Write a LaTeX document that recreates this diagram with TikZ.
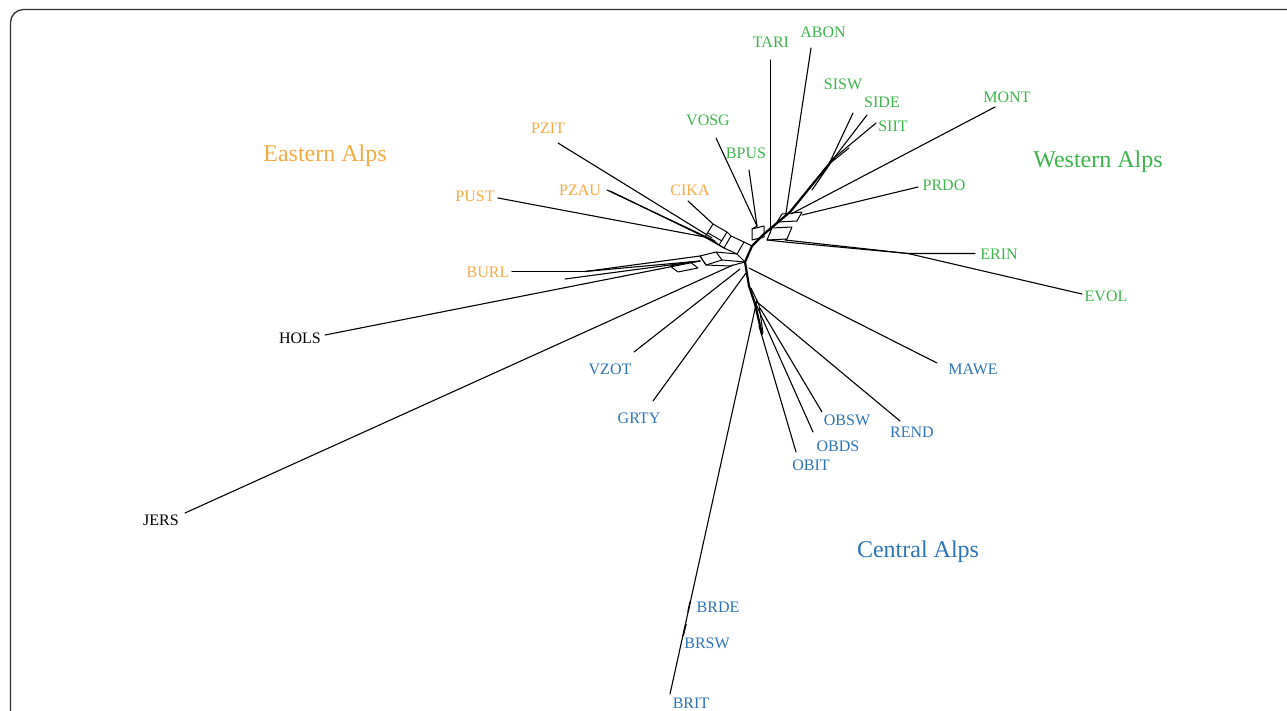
\documentclass[tikz,border=0pt]{standalone}
\usepackage{fontspec}
\setmainfont{Liberation Serif}
\definecolor{eastc}{HTML}{F7A942}
\definecolor{westc}{HTML}{3CB44A}
\definecolor{centc}{HTML}{2C73B8}
\definecolor{framec}{HTML}{333333}
\begin{document}
\begin{tikzpicture}[x=1pt,y=-1pt,
  edge/.style={line width=1.1pt, line join=round, line cap=round},
  stem/.style={line width=2.2pt, line join=round, line cap=round},
  splitbox/.style={line width=1pt, line join=round},
  taxon/.style={font=\fontsize{16}{16}\selectfont, inner sep=0pt},
  westt/.style={taxon, text=westc},
  eastt/.style={taxon, text=eastc},
  centt/.style={taxon, text=centc},
  outt/.style={taxon, text=black},
  region/.style={font=\fontsize{24}{24}\selectfont, inner sep=0pt, anchor=base}]

\useasboundingbox (0,0) rectangle (1287,710);
\clip (0,0) rectangle (1287,710);

% outer frame, open to the right and bottom
\draw[framec, line width=1.3pt, rounded corners=13pt]
  (10.5,760) -- (10.5,9.5) -- (1340,9.5);

% ---------- taxon labels ----------
\node[westt] (tari) at (771,42) {TARI};
\node[westt] (abon) at (823,32) {ABON};
\node[westt] (sisw) at (843,84) {SISW};
\node[westt] (side) at (882,102) {SIDE};
\node[westt] (siit) at (893,126) {SIIT};
\node[westt] (mont) at (1007,97) {MONT};
\node[westt] (prdo) at (944,185) {PRDO};
\node[westt] (erin) at (999,254) {ERIN};
\node[westt] (evol) at (1106,296) {EVOL};
\node[westt] (vosg) at (708,120) {VOSG};
\node[westt] (bpus) at (746,153) {BPUS};

\node[eastt] (pzit) at (548,128) {PZIT};
\node[eastt] (pzau) at (580,190) {PZAU};
\node[eastt] (cika) at (690,190) {CIKA};
\node[eastt] (pust) at (475,196) {PUST};
\node[eastt] (burl) at (488,272) {BURL};

\node[outt] (hols) at (300,338) {HOLS};
\node[outt] (jers) at (161,520) {JERS};

\node[centt] (vzot) at (610,369) {VZOT};
\node[centt] (grty) at (639,418) {GRTY};
\node[centt] (mawe) at (973,369) {MAWE};
\node[centt] (rend) at (912,432) {REND};
\node[centt] (obsw) at (847,420) {OBSW};
\node[centt] (obds) at (838,446) {OBDS};
\node[centt] (obit) at (811,465) {OBIT};
\node[centt] (brde) at (718,607) {BRDE};
\node[centt] (brsw) at (707,643) {BRSW};
\node[centt] (brit) at (691,703) {BRIT};

% ---------- region labels ----------
\node[region, text=eastc] (eastreg) at (325,161) {Eastern Alps};
\node[region, text=westc] (westreg) at (1098,167) {Western Alps};
\node[region, text=centc] (centreg) at (918,557) {Central Alps};

% ---------- leaf ends ----------
\coordinate (tariE) at (770.5,60);
\coordinate (abonE) at (811,48);
\coordinate (siswE) at (853,113);
\coordinate (sideE) at (867,115);
\coordinate (siitE) at (876,123);
\coordinate (sstubE) at (849,148);
\coordinate (montE) at (995,107);
\coordinate (prdoE) at (918,187);
\coordinate (erinE) at (975,253.5);
\coordinate (evolE) at (1082,294);
\coordinate (vosgE) at (716,138);
\coordinate (bpusE) at (749,170);
\coordinate (pzitE) at (558,143);
\coordinate (pzauE) at (607,190);
\coordinate (cikaE) at (688,201);
\coordinate (pustE) at (498,198);
\coordinate (burlE) at (512,271.5);
\coordinate (holsE) at (325,335);
\coordinate (jersE) at (185,513);
\coordinate (vzotE) at (634,352);
\coordinate (grtyE) at (653,401);
\coordinate (maweE) at (937,363);
\coordinate (rendE) at (900,421);
\coordinate (obswE) at (822,412);
\coordinate (obdsE) at (813,432);
\coordinate (obitE) at (796,452);
\coordinate (britE) at (670,694);

% ---------- inner junctions ----------
\coordinate (hub) at (745,262);
\coordinate (cg1) at (752,246);
\coordinate (gA) at (764,234);
\coordinate (gB) at (790,212);
\coordinate (sJ) at (834,158);
\coordinate (sJb) at (829,164);
\coordinate (erJ) at (908,253.5);
\coordinate (vbJ) at (757,226);
\coordinate (burlJ) at (585,271.5);
\coordinate (bs1) at (749,286);
\coordinate (bs2) at (755,304);
\coordinate (bs3) at (762,334);

% ---------- green branches ----------
\draw[stem] (hub) -- (cg1) -- (gA) -- (gB) -- (sJ);
\draw[edge] (tariE) -- (770.5,233);
\draw[edge] (abonE) -- (786,213);
\draw[edge] (siswE) -- (sJb);
\draw[edge] (sideE) -- (sJ);
\draw[edge] (siitE) -- (sJ);
\draw[edge] (sstubE) -- (sJb);
\draw[edge] (sJ) -- (812,190);
\draw[edge] (montE) -- (791,214);
\draw[edge] (prdoE) -- (802,215);
\draw[edge] (vosgE) -- (vbJ);
\draw[edge] (bpusE) -- (vbJ);
\draw[edge] (785,240) -- (erJ) -- (erinE);
\draw[edge] (erJ) -- (evolE);
\draw[edge] (767,240) -- (790,242.5) -- (erJ);

% split boxes on the western side
\draw[splitbox] (782,214) -- (802,212) -- (797,221) -- (777,222) -- cycle;
\draw[splitbox] (772,228) -- (792,227) -- (787,239) -- (767,240) -- cycle;
\draw[splitbox] (752,229) -- (764,226) -- (764,237) -- (752,240) -- cycle;
\draw[splitbox] (vbJ) -- (752,229);
\draw[splitbox] (787,239) -- (785,240);

% ---------- eastern branches ----------
\draw[splitbox] (705,237) -- (713,224) -- (727,232) -- (719,245) -- cycle;
\draw[splitbox] (724,248) -- (731,236) -- (744,242) -- (737,254) -- cycle;
\draw[splitbox] (708,233) -- (722,241);
\draw[splitbox] (719,245) -- (724,248);
\draw[splitbox] (727,232) -- (731,236);
\draw[splitbox] (737,254) -- (hub);
\draw[splitbox] (744,242) -- (cg1);
\draw[edge] (pzitE) -- (712,238);
\draw[edge] (pzauE) -- (715,241);
\draw[edge] (610,191) -- (717,243);
\draw[edge] (cikaE) -- (713,224);
\draw[edge] (pustE) -- (705,237);
\draw[edge] (705,237) -- (724,248);

% long thin split towards BURL, HOLS and JERS
\draw[edge] (burlE) -- (burlJ);
\draw[edge] (burlJ) -- (700,256);
\draw[edge] (burlJ) -- (700,261);
\draw[edge] (565,279) -- (700,261);
\draw[splitbox] (700,256) -- (716,252) -- (722,260) -- (706,265) -- cycle;
\draw[splitbox] (700,256) -- (706,265);
\draw[splitbox] (670,266) -- (690,262) -- (698,268) -- (678,272) -- cycle;
\draw[splitbox] (716,252) -- (737,254);
\draw[splitbox] (722,260) -- (hub);
\draw[splitbox] (706,265) -- (730,266) -- (hub);
\draw[edge] (holsE) -- (700,261);
\draw[edge] (jersE) -- (733,265);

% ---------- central branches ----------
\draw[stem] (hub) -- (bs1) -- (bs2) -- (bs3);
\draw[splitbox] (751,288) -- (759,305) -- (763,333);
\draw[edge] (vzotE) -- (740,269);
\draw[edge] (grtyE) -- (746,273);
\draw[edge] (maweE) -- (749,268);
\draw[edge] (rendE) -- (757,302);
\draw[edge] (obswE) -- (760,308);
\draw[edge] (obdsE) -- (755,302);
\draw[edge] (obitE) -- (759,326);
\draw[edge] (britE) -- (757,300);
\draw[line width=1.6pt] (686,624) -- (683,636);
\draw[line width=1.4pt] (690,602) -- (688,612);
\end{tikzpicture}
\end{document}
